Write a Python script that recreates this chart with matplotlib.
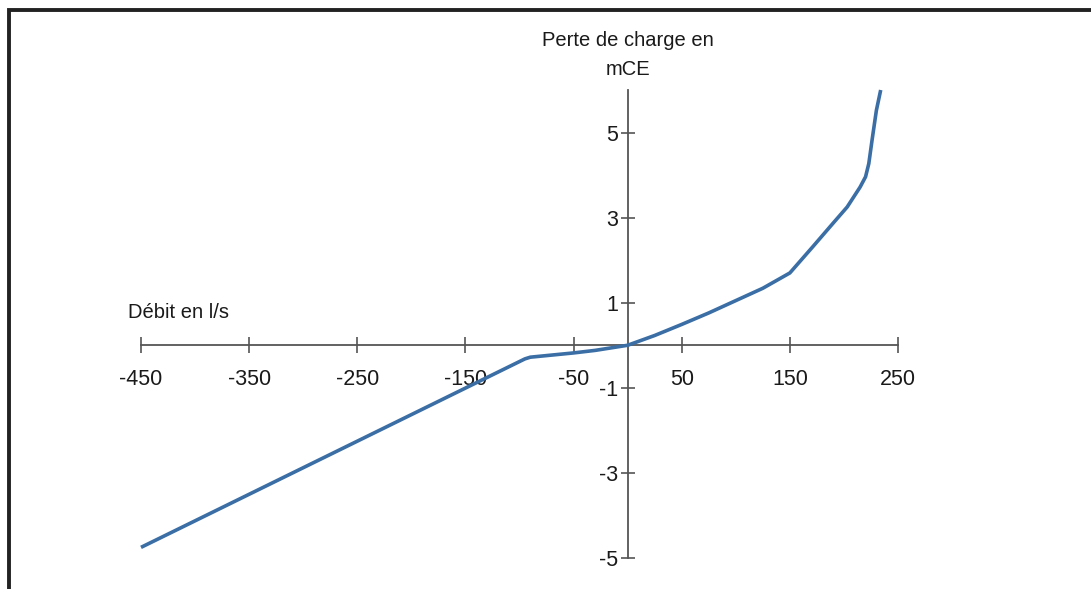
import matplotlib
matplotlib.use("Agg")
import matplotlib.pyplot as plt
from matplotlib.lines import Line2D

# Head-loss curve: flow (l/s) vs. head loss (mCE)
debit = [-450, -95, -90, -70, -50, -30, -15, 0,
         25, 50, 75, 100, 125, 150, 171, 190, 203, 215, 220, 223, 226, 230, 234]
perte = [-4.75, -0.32, -0.28, -0.23, -0.18, -0.12, -0.06, 0.0,
         0.23, 0.49, 0.76, 1.05, 1.34, 1.70, 2.31, 2.87, 3.25, 3.72, 3.96, 4.27, 4.82, 5.52, 6.0]

x_ticks = [-450, -350, -250, -150, -50, 50, 150, 250]
y_ticks = [-5, -3, -1, 1, 3, 5]

plt.rcParams["font.family"] = ["Liberation Sans", "DejaVu Sans"]
plt.rcParams["axes.unicode_minus"] = False

W, H = 1091, 589
fig = plt.figure(figsize=(W / 100, H / 100), dpi=100)

# axes placed so the data range spans the drawn axis lines
x0, x1 = 141, 898
ytop, ybot = 90, 558
ax = fig.add_axes([x0 / W, 1 - ybot / H, (x1 - x0) / W, (ybot - ytop) / H])
ax.set_xlim(-450, 250)
ax.set_ylim(-5, 6)
ax.patch.set_alpha(0)

for s in ("top", "right"):
    ax.spines[s].set_visible(False)
axis_col = "#555555"
for s in ("left", "bottom"):
    ax.spines[s].set_position(("data", 0))
    ax.spines[s].set_color(axis_col)
    ax.spines[s].set_linewidth(1.3)

ax.set_xticks(x_ticks)
ax.set_yticks(y_ticks)
ax.tick_params(axis="x", direction="inout", length=12, width=1.2, color=axis_col,
               labelsize=15.5, pad=11, labelcolor="#1a1a1a")
ax.tick_params(axis="y", direction="inout", length=10, width=1.2, color=axis_col,
               labelsize=15.5, pad=2, labelcolor="#1a1a1a")

ax.plot(debit, perte, color="#3a6ea5", lw=2.6, solid_capstyle="butt",
        solid_joinstyle="round", clip_on=False, zorder=3)

fig.text(128 / W, 1 - 313 / H, "Débit en l/s", fontsize=14.5, ha="left", va="center",
         color="#1a1a1a")
fig.text(628 / W, 1 - 55 / H, "Perte de charge en\nmCE", fontsize=14.5, ha="center",
         va="center", color="#1a1a1a", linespacing=1.65)

# outer frame (left and top edges)
fig.add_artist(Line2D([9 / W, 9 / W, 1.0], [0.0, 1 - 9.5 / H, 1 - 9.5 / H],
                      transform=fig.transFigure, color="#222222", lw=2.8,
                      solid_joinstyle="miter"))

fig.savefig("out.png", dpi=100, facecolor="white")
